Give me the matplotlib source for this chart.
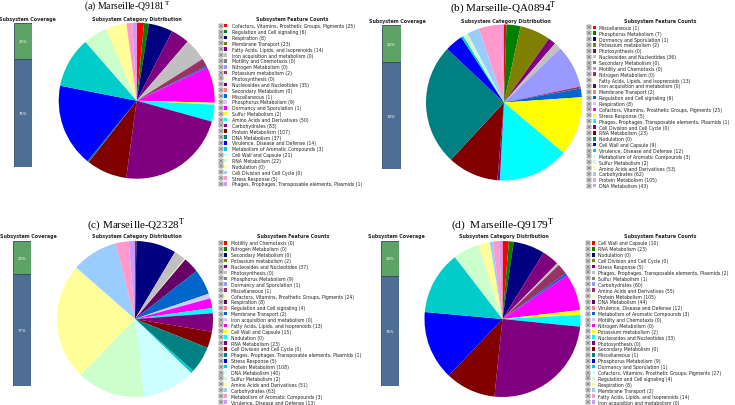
import numpy as np
import matplotlib
matplotlib.use('Agg')
import matplotlib.pyplot as plt

plt.rcParams['mathtext.fontset'] = 'stix'

W, H = 735, 406

# SEED subsystem palette (legend order)
palette = ['#ff0000', '#008000', '#000080', '#808000', '#800080', '#c0c0c0', '#808080',
           '#9999ff', '#993366', '#ffffcc', '#660066', '#ff8080', '#0066cc', '#ccccff',
           '#ff00ff', '#ffff00', '#00ffff', '#800080', '#800000', '#008080', '#0000ff',
           '#00cccc', '#ccffff', '#ccffcc', '#ffff99', '#99ccff', '#ff99cc', '#cc99ff']

titles = ['(a) Marseille-Q9181', '(b) Marseille-QA0894', '(c) Marseille-Q2328', '(d)  Marseille-Q9179']

cov_a = [25, 75]
cov_b = [26, 74]
cov_c = [23, 77]
cov_d = [24, 76]

# pie shares (%) by palette slot
pie_a = [1.5, 1.0, 5.0, 0, 3.8, 4.7, 0, 0, 1.7, 0, 0, 0, 0.3, 0, 7.4, 0.4, 3.5, 22.8, 8.4, 0.3,
         17.2, 10.5, 0, 5.0, 4.3, 0, 1.2, 0.9]
pie_b = [0.5, 2.9, 0, 6.3, 1.6, 1.5, 0, 8.8, 0.4, 0, 0, 0, 1.8, 0, 0, 12.2, 14.6, 0.5, 10.5, 25.0,
         3.7, 0.5, 0, 1.0, 0, 2.5, 4.6, 0.6]
pie_c = [0.3, 0, 8.3, 0, 0, 2.4, 0, 0, 0, 0.2, 3.3, 0, 5.3, 1.0, 2.0, 0, 1.1, 3.8, 3.4, 5.6,
         0, 0.6, 11.0, 14.2, 24.2, 9.6, 2.7, 1.3]
pie_d = [1.3, 1.0, 6.5, 0, 3.5, 0.5, 0, 0, 2.2, 0, 0, 0, 0.5, 0, 7.6, 1.0, 2.4, 25.0, 10.4, 0,
         14.3, 13.1, 0, 5.4, 2.4, 0.6, 1.3, 0.7]

labels_a = ['Cofactors, Vitamins, Prosthetic Groups, Pigments', 'Regulation and Cell signaling',
            'Respiration', 'Membrane Transport', 'Fatty Acids, Lipids, and Isoprenoids',
            'Iron acquisition and metabolism', 'Motility and Chemotaxis', 'Nitrogen Metabolism',
            'Potassium metabolism', 'Photosynthesis', 'Nucleosides and Nucleotides',
            'Secondary Metabolism', 'Miscellaneous', 'Phosphorus Metabolism',
            'Dormancy and Sporulation', 'Sulfur Metabolism', 'Amino Acids and Derivatives',
            'Carbohydrates', 'Protein Metabolism', 'DNA Metabolism', 'Virulence, Disease and Defense',
            'Metabolism of Aromatic Compounds', 'Cell Wall and Capsule', 'RNA Metabolism',
            'Nodulation', 'Cell Division and Cell Cycle', 'Stress Response',
            'Phages, Prophages, Transposable elements, Plasmids']
counts_a = [25, 6, 8, 23, 14, 0, 0, 0, 2, 0, 35, 0, 1, 9, 1, 2, 50, 83, 107, 37, 14, 3, 21, 22, 0, 0, 5, 1]

labels_b = ['Miscellaneous', 'Phosphorus Metabolism', 'Dormancy and Sporulation',
            'Potassium metabolism', 'Photosynthesis', 'Nucleosides and Nucleotides',
            'Secondary Metabolism', 'Motility and Chemotaxis', 'Nitrogen Metabolism',
            'Fatty Acids, Lipids, and Isoprenoids', 'Iron acquisition and metabolism',
            'Membrane Transport', 'Regulation and Cell signaling', 'Respiration',
            'Cofactors, Vitamins, Prosthetic Groups, Pigments', 'Stress Response',
            'Phages, Prophages, Transposable elements, Plasmids', 'Cell Division and Cell Cycle',
            'RNA Metabolism', 'Nodulation', 'Cell Wall and Capsule', 'Virulence, Disease and Defense',
            'Metabolism of Aromatic Compounds', 'Sulfur Metabolism', 'Amino Acids and Derivatives',
            'Carbohydrates', 'Protein Metabolism', 'DNA Metabolism']
counts_b = [1, 7, 1, 2, 0, 36, 0, 0, 0, 13, 0, 2, 6, 8, 25, 5, 1, 0, 23, 0, 9, 12, 3, 2, 53, 62, 105, 43]

labels_c = ['Motility and Chemotaxis', 'Nitrogen Metabolism', 'Secondary Metabolism',
            'Potassium metabolism', 'Nucleosides and Nucleotides', 'Photosynthesis',
            'Phosphorus Metabolism', 'Dormancy and Sporulation', 'Miscellaneous',
            'Cofactors, Vitamins, Prosthetic Groups, Pigments', 'Respiration',
            'Regulation and Cell signaling', 'Membrane Transport', 'Iron acquisition and metabolism',
            'Fatty Acids, Lipids, and Isoprenoids', 'Cell Wall and Capsule', 'Nodulation',
            'RNA Metabolism', 'Cell Division and Cell Cycle',
            'Phages, Prophages, Transposable elements, Plasmids', 'Stress Response',
            'Protein Metabolism', 'DNA Metabolism', 'Sulfur Metabolism', 'Amino Acids and Derivatives',
            'Carbohydrates', 'Metabolism of Aromatic Compounds', 'Virulence, Disease and Defense']
counts_c = [0, 0, 0, 2, 37, 0, 9, 1, 1, 24, 8, 4, 2, 0, 13, 15, 0, 23, 0, 1, 5, 108, 40, 2, 51, 63, 3, 13]

labels_d = ['Cell Wall and Capsule', 'RNA Metabolism', 'Nodulation', 'Cell Division and Cell Cycle',
            'Stress Response', 'Phages, Prophages, Transposable elements, Plasmids',
            'Sulfur Metabolism', 'Carbohydrates', 'Amino Acids and Derivatives', 'Protein Metabolism',
            'DNA Metabolism', 'Virulence, Disease and Defense', 'Metabolism of Aromatic Compounds',
            'Motility and Chemotaxis', 'Nitrogen Metabolism', 'Potassium metabolism',
            'Nucleosides and Nucleotides', 'Photosynthesis', 'Secondary Metabolism', 'Miscellaneous',
            'Phosphorus Metabolism', 'Dormancy and Sporulation',
            'Cofactors, Vitamins, Prosthetic Groups, Pigments', 'Regulation and Cell signaling',
            'Respiration', 'Membrane Transport', 'Fatty Acids, Lipids, and Isoprenoids',
            'Iron acquisition and metabolism']
counts_d = [10, 23, 0, 0, 5, 2, 1, 60, 55, 105, 44, 12, 3, 0, 0, 2, 33, 0, 0, 1, 9, 1, 27, 4, 8, 2, 14, 0]

# layout in pixels for each panel
layout = [
    dict(bar=(14, 24, 18, 144), cov_t=(27, 19), pie=(136.7, 101.7), cat_t=(137, 19), title=(127, 7, 7.0),
         leg=(220.5, 225.5, 232, 26.7, 185, 369), leg_t=(292, 19)),
    dict(bar=(382, 26, 19, 144), cov_t=(397, 21), pie=(504, 103.5), cat_t=(506, 21), title=(503, 7.5, 8.0),
         leg=(588.5, 594.5, 599, 28.3, 186.7, 735), leg_t=(660, 21)),
    dict(bar=(13, 242, 18, 145), cov_t=(28, 237), pie=(135, 320), cat_t=(137, 237), title=(136, 225, 8.0),
         leg=(220.5, 225.5, 231, 244, 403, 369), leg_t=(293, 237)),
    dict(bar=(381, 242, 18, 145), cov_t=(396, 237), pie=(502.5, 320), cat_t=(504, 237), title=(503, 225, 8.2),
         leg=(587.5, 593.5, 598, 244, 403, 735), leg_t=(660, 237)),
]

fig = plt.figure(figsize=(W / 100, H / 100), dpi=100)


def px_axes(x, y, w, h):
    ax = fig.add_axes([x / W, 1 - (y + h) / H, w / W, h / H])
    ax.set_axis_off()
    return ax


def ftext(x, y, s, **kw):
    fig.text(x / W, 1 - y / H, s, **kw)


covs = [cov_a, cov_b, cov_c, cov_d]
pies = [pie_a, pie_b, pie_c, pie_d]
labels = [labels_a, labels_b, labels_c, labels_d]
counts = [counts_a, counts_b, counts_c, counts_d]

for k in range(4):
    L = layout[k]
    # coverage bar
    bx, by, bw, bh = L['bar']
    ax = px_axes(bx, by, bw, bh)
    inside, outside = covs[k]
    ax.bar(0, outside, width=1, bottom=0, color='#4e6e93', edgecolor='#33475e', linewidth=0.6)
    ax.bar(0, inside, width=1, bottom=outside, color='#5fa266', edgecolor='#33475e', linewidth=0.6)
    ax.set_xlim(-0.5, 0.5)
    ax.set_ylim(0, 100)
    ax.text(0, outside + inside / 2, f'{inside}%', color='white', fontsize=2.8, ha='center', va='center')
    ax.text(0, outside / 2, f'{outside}%', color='white', fontsize=2.8, ha='center', va='center')
    ftext(*L['cov_t'], 'Subsystem Coverage', fontsize=3.4, fontweight='bold', ha='center', va='center',
          color='#222222')

    # pie
    cx, cy = L['pie']
    r = 78
    ax = px_axes(cx - r, cy - r, 2 * r, 2 * r)
    vals = np.array(pies[k])
    keep = vals > 0
    ax.pie(vals[keep], colors=np.array(palette)[keep], startangle=90, counterclock=False,
           radius=1, wedgeprops=dict(linewidth=0))
    ax.set_xlim(-1, 1)
    ax.set_ylim(-1, 1)
    ftext(*L['cat_t'], 'Subsystem Category Distribution', fontsize=3.4, fontweight='bold',
          ha='center', va='center', color='#222222')

    tx, ty, ts = L['title']
    ftext(tx, ty, titles[k] + r'$^{\mathrm{T}}$', fontsize=ts, family='Liberation Serif',
          ha='center', va='center')

    # legend list
    xi, xs, xt, y0, y1, xr = L['leg']
    n = len(labels[k])
    step = (y1 - y0) / (n - 1)
    ax = px_axes(xi - 4, y0 - step / 2, xr - (xi - 4), (y1 - y0) + step)
    ax.set_xlim(xi - 4, xr)
    ax.set_ylim(n - 0.5, -0.5)
    rows = np.arange(n)
    ax.scatter(np.full(n, xi), rows, marker='s', s=5.5, facecolor='#e0e0e0', edgecolor='#555555',
               linewidth=0.35)
    ax.scatter(np.full(n, xi), rows, marker='+', s=3, color='#333333', linewidth=0.35)
    ax.scatter(np.full(n, xs), rows, marker='s', s=6.5, c=palette, edgecolors='none')
    for i in rows:
        ax.text(xt, i, f'{labels[k][i]} ({counts[k][i]})', fontsize=3.3, va='center', ha='left',
                color='#222222', clip_on=True)
    ftext(*L['leg_t'], 'Subsystem Feature Counts', fontsize=3.4, fontweight='bold', ha='center',
          va='center', color='#222222')

fig.savefig('out.png', dpi=100)
